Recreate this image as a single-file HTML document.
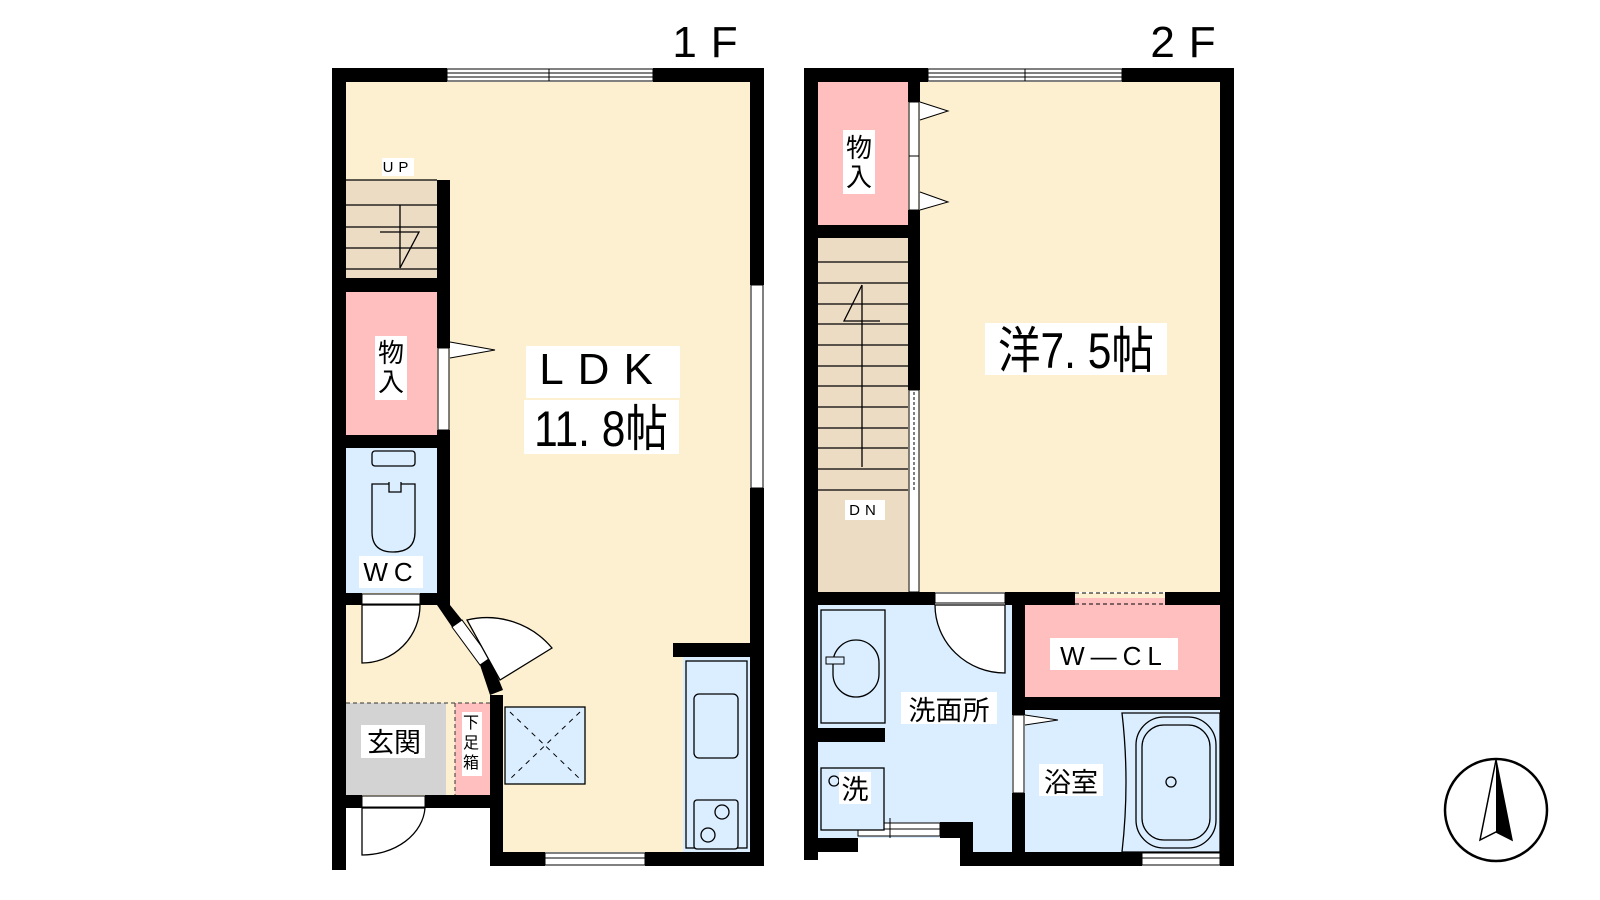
<!DOCTYPE html>
<html><head><meta charset="utf-8"><style>
html,body{margin:0;padding:0;background:#fff;width:1600px;height:900px;overflow:hidden;}
svg{display:block;}
text{font-family:"Liberation Sans","Noto Sans CJK JP",sans-serif;}
</style></head><body>
<svg width="1600" height="900" viewBox="0 0 1600 900" xmlns="http://www.w3.org/2000/svg">
<!-- ===== 1F ===== -->
<rect x="346" y="82" width="404" height="770" fill="#fdf0d0"/>
<rect x="346" y="808" width="144" height="60" fill="#fff"/>
<rect x="346" y="180" width="91" height="98" fill="#eddcc4"/>
<g stroke="#000" stroke-width="1.3">
<line x1="346" y1="180" x2="437" y2="180"/><line x1="346" y1="205" x2="437" y2="205"/>
<line x1="346" y1="227" x2="437" y2="227"/><line x1="346" y1="248" x2="437" y2="248"/>
<line x1="346" y1="269" x2="437" y2="269"/>
<line x1="400" y1="205" x2="400" y2="268"/>
<polyline points="380,232 419,232 400,268" fill="none"/>
</g>
<rect x="382" y="158" width="32" height="18" fill="#fff"/>
<text x="398" y="172" font-size="15" text-anchor="middle" letter-spacing="5">UP</text>
<rect x="346" y="292" width="91" height="143" fill="#ffbfbf"/>
<rect x="346" y="448" width="91" height="145" fill="#dbeeff"/>
<rect x="346" y="703" width="100" height="92" fill="#d3d3d3"/>
<rect x="455" y="703" width="35" height="92" fill="#ffbfbf"/>
<line x1="346" y1="703" x2="490" y2="703" stroke="#333" stroke-dasharray="4,3" stroke-width="1"/>
<line x1="455" y1="703" x2="455" y2="795" stroke="#333" stroke-dasharray="4,3" stroke-width="1"/>
<g fill="#000">
<rect x="332" y="68" width="115" height="14"/>
<rect x="653" y="68" width="111" height="14"/>
<rect x="332" y="68" width="14" height="802"/>
<rect x="750" y="68" width="14" height="217"/>
<rect x="750" y="488" width="14" height="378"/>
<rect x="490" y="852" width="55" height="14"/>
<rect x="645" y="852" width="119" height="14"/>
<rect x="437" y="180" width="13" height="168"/>
<rect x="437" y="430" width="13" height="175"/>
<rect x="346" y="278" width="91" height="14"/>
<rect x="346" y="435" width="91" height="13"/>
<rect x="332" y="593" width="30" height="12"/>
<rect x="420" y="593" width="30" height="12"/>
<rect x="332" y="795" width="30" height="13"/>
<rect x="425" y="795" width="78" height="13"/>
<rect x="490" y="695" width="13" height="171"/>
<rect x="673" y="643" width="91" height="14"/>
<polygon points="437,605 450,605 462,620 452,627"/>
<polygon points="480,665 490,658 503,690 490,695"/>
</g>
<g fill="#fff" stroke="#000" stroke-width="1">
<rect x="447" y="69" width="206" height="12"/>
<line x1="447" y1="73" x2="653" y2="73"/><line x1="447" y1="77" x2="653" y2="77"/>
<line x1="549" y1="69" x2="549" y2="81"/>
<rect x="751" y="285" width="12" height="203"/>
<rect x="545" y="853" width="100" height="12"/>
<line x1="545" y1="858" x2="645" y2="858"/>
</g>
<rect x="438" y="348" width="11" height="82" fill="#fff" stroke="#000"/>
<polyline points="450,342 495,350 450,358" fill="#fff" stroke="#000"/>
<rect x="362" y="594" width="58" height="10" fill="#fff" stroke="#000"/>
<path d="M362,605 L362,663 A58,58 0 0 0 420,605 Z" fill="#fff" stroke="#000" stroke-width="1.3"/>
<rect x="362" y="796" width="63" height="11" fill="#fff" stroke="#000"/>
<path d="M362,808 L362,855 A63,50 0 0 0 425,808 Z" fill="#fff" stroke="#000" stroke-width="1.3"/>
<polygon points="452,627 462,620 490,658 480,665" fill="#fff" stroke="#000"/>
<path d="M467,620 A85,85 0 0 1 552,648 L500,680 Z" fill="#fff" stroke="#000" stroke-width="1.3"/>
<g fill="#dbeeff" stroke="#000" stroke-width="1.3">
<rect x="372" y="451" width="43" height="15" rx="3"/>
<path d="M372,484 L372,532 Q372,552 393,552 Q415,552 415,532 L415,484 Z"/>
<path d="M389,482 L389,492 L401,492 L401,482"/>
</g>
<rect x="505" y="707" width="80" height="77" fill="#dbeeff" stroke="#000" stroke-width="1.3"/>
<g stroke="#000" stroke-dasharray="5,5"><line x1="510" y1="712" x2="580" y2="779"/><line x1="580" y1="712" x2="510" y2="779"/></g>
<rect x="683" y="657" width="67" height="195" fill="#dbeeff"/>
<rect x="686" y="661" width="61" height="187" fill="#dbeeff" stroke="#000" stroke-width="1.3"/>
<rect x="694" y="694" width="44" height="64" rx="5" fill="#dbeeff" stroke="#000" stroke-width="1.3"/>
<rect x="694" y="800" width="44" height="49" rx="3" fill="#dbeeff" stroke="#000" stroke-width="1.3"/>
<circle cx="722" cy="812" r="7" fill="none" stroke="#000" stroke-width="1.3"/>
<circle cx="708" cy="835" r="7" fill="none" stroke="#000" stroke-width="1.3"/>
<rect x="526" y="346" width="154" height="52" fill="#fff"/>
<text x="603" y="384" font-size="44" text-anchor="middle" letter-spacing="14">LDK</text>
<rect x="524" y="400" width="155" height="54" fill="#fff"/>
<text x="601" y="446" font-size="50" text-anchor="middle" transform="translate(601,0) scale(0.85,1) translate(-601,0)">11. 8帖</text>
<rect x="375" y="336" width="32" height="64" fill="#fff"/>
<text x="391" y="362" font-size="26" text-anchor="middle">物</text>
<text x="391" y="391" font-size="26" text-anchor="middle">入</text>
<rect x="359" y="556" width="64" height="32" fill="#fff"/>
<text x="391" y="581" font-size="26" text-anchor="middle" letter-spacing="6">WC</text>
<rect x="361" y="725" width="64" height="33" fill="#fff"/>
<text x="394" y="752" font-size="27" text-anchor="middle">玄関</text>
<rect x="462" y="712" width="20" height="64" fill="#fff"/>
<text x="471" y="728" font-size="16" text-anchor="middle">下</text>
<text x="471" y="748" font-size="16" text-anchor="middle">足</text>
<text x="471" y="768" font-size="16" text-anchor="middle">箱</text>
<text x="712" y="57" font-size="44" text-anchor="middle" letter-spacing="14">1F</text>

<!-- ===== 2F ===== -->
<rect x="818" y="82" width="402" height="510" fill="#fdf0d0"/>
<rect x="818" y="82" width="90" height="143" fill="#ffbfbf"/>
<rect x="818" y="238" width="90" height="354" fill="#eddcc4"/>
<g stroke="#000" stroke-width="1.3">
<line x1="818" y1="262" x2="908" y2="262"/><line x1="818" y1="283" x2="908" y2="283"/>
<line x1="818" y1="304" x2="908" y2="304"/><line x1="818" y1="324" x2="908" y2="324"/>
<line x1="818" y1="345" x2="908" y2="345"/><line x1="818" y1="366" x2="908" y2="366"/>
<line x1="818" y1="386" x2="908" y2="386"/><line x1="818" y1="407" x2="908" y2="407"/>
<line x1="818" y1="428" x2="908" y2="428"/><line x1="818" y1="448" x2="908" y2="448"/>
<line x1="818" y1="469" x2="908" y2="469"/><line x1="818" y1="490" x2="908" y2="490"/>
<line x1="862" y1="285" x2="862" y2="467"/>
<polyline points="862,285 844,321 880,321" fill="none"/>
</g>
<rect x="845" y="500" width="40" height="20" fill="#fff"/>
<text x="865" y="515" font-size="15" text-anchor="middle" letter-spacing="5">DN</text>
<rect x="818" y="605" width="194" height="233" fill="#dbeeff"/>
<rect x="973" y="838" width="39" height="14" fill="#dbeeff"/>
<rect x="1025" y="605" width="195" height="92" fill="#ffbfbf"/>
<rect x="1025" y="710" width="195" height="142" fill="#dbeeff"/>
<g fill="#000">
<rect x="804" y="68" width="124" height="14"/>
<rect x="1122" y="68" width="112" height="14"/>
<rect x="804" y="68" width="14" height="792"/>
<rect x="1220" y="68" width="14" height="798"/>
<rect x="908" y="82" width="12" height="20"/>
<rect x="908" y="210" width="12" height="180"/>
<rect x="818" y="225" width="90" height="13"/>
<rect x="804" y="592" width="131" height="13"/>
<rect x="1005" y="592" width="70" height="13"/>
<rect x="1165" y="592" width="69" height="13"/>
<rect x="1012" y="592" width="13" height="123"/>
<rect x="1012" y="793" width="13" height="73"/>
<rect x="1025" y="697" width="195" height="13"/>
<rect x="818" y="728" width="67" height="14"/>
<rect x="804" y="838" width="54" height="14"/>
<rect x="960" y="822" width="13" height="44"/>
<rect x="940" y="822" width="33" height="16"/>
<rect x="960" y="852" width="182" height="14"/>
</g>
<g fill="#fff" stroke="#000" stroke-width="1">
<rect x="928" y="69" width="194" height="12"/>
<line x1="928" y1="73" x2="1122" y2="73"/><line x1="928" y1="77" x2="1122" y2="77"/>
<line x1="1025" y1="69" x2="1025" y2="81"/>
<rect x="858" y="823" width="82" height="13"/>
<line x1="858" y1="829" x2="940" y2="829"/>
<line x1="890" y1="818" x2="890" y2="838"/>
<rect x="1142" y="853" width="78" height="12"/>
<line x1="1142" y1="858" x2="1220" y2="858"/>
<rect x="909" y="390" width="10" height="202"/>
<line x1="914" y1="392" x2="914" y2="490" stroke-dasharray="3,2"/>
</g>
<rect x="909" y="102" width="10" height="54" fill="#fff" stroke="#000"/>
<rect x="909" y="156" width="10" height="54" fill="#fff" stroke="#000"/>
<polyline points="920,102 948,111 920,120" fill="#fff" stroke="#000"/>
<polyline points="920,192 948,202 920,210" fill="#fff" stroke="#000"/>
<rect x="1075" y="593" width="90" height="11" fill="#fdf0d0"/>
<rect x="1075" y="598" width="90" height="7" fill="#ffbfbf"/>
<g stroke="#000" stroke-dasharray="4,3"><line x1="1075" y1="593" x2="1165" y2="593"/><line x1="1075" y1="604" x2="1165" y2="604"/></g>
<rect x="935" y="593" width="70" height="10" fill="#fff" stroke="#000"/>
<path d="M935,605 A70,68 0 0 0 1005,673 L1005,605 Z" fill="#fff" stroke="#000" stroke-width="1.3"/>
<rect x="1013" y="715" width="11" height="78" fill="#fff" stroke="#000"/>
<polyline points="1025,715 1058,720 1025,725" fill="#fff" stroke="#000"/>
<rect x="821" y="610" width="64" height="113" fill="#dbeeff" stroke="#000" stroke-width="1.3"/>
<rect x="833" y="640" width="46" height="57" rx="23" fill="#dbeeff" stroke="#000" stroke-width="1.3"/>
<rect x="826" y="657" width="18" height="7" fill="#dbeeff" stroke="#000"/>
<rect x="821" y="768" width="63" height="62" fill="#dbeeff" stroke="#000" stroke-width="1.3"/>
<circle cx="834" cy="781" r="5" fill="none" stroke="#000" stroke-width="1.3"/>
<path d="M1122,713 L1220,713 L1220,852 L1122,852 Q1130,782 1122,713 Z" fill="#dbeeff" stroke="#000" stroke-width="1.3"/>
<rect x="1136" y="717" width="80" height="131" rx="28" fill="none" stroke="#000" stroke-width="1.3"/>
<rect x="1142" y="725" width="68" height="115" rx="22" fill="none" stroke="#000" stroke-width="1.3"/>
<circle cx="1171" cy="782" r="5" fill="none" stroke="#000" stroke-width="1.3"/>
<rect x="985" y="323" width="182" height="52" fill="#fff"/>
<text x="1076" y="368" font-size="50" text-anchor="middle" transform="translate(1076,0) scale(0.85,1) translate(-1076,0)">洋7. 5帖</text>
<rect x="843" y="130" width="32" height="64" fill="#fff"/>
<text x="859" y="157" font-size="26" text-anchor="middle">物</text>
<text x="859" y="186" font-size="26" text-anchor="middle">入</text>
<rect x="1050" y="638" width="128" height="32" fill="#fff"/>
<text x="1114" y="665" font-size="26" text-anchor="middle" letter-spacing="6">W—CL</text>
<rect x="901" y="692" width="96" height="32" fill="#fff"/>
<text x="949" y="720" font-size="27" text-anchor="middle">洗面所</text>
<rect x="1039" y="764" width="64" height="32" fill="#fff"/>
<text x="1071" y="792" font-size="27" text-anchor="middle">浴室</text>
<rect x="839" y="772" width="32" height="32" fill="#fff"/>
<text x="855" y="799" font-size="27" text-anchor="middle">洗</text>
<text x="1190" y="57" font-size="44" text-anchor="middle" letter-spacing="14">2F</text>

<circle cx="1496" cy="810" r="51" fill="#fff" stroke="#000" stroke-width="2.5"/>
<polygon points="1496,760 1480,840 1496,832 1512,840" fill="#fff" stroke="#000" stroke-width="1.5"/>
<polygon points="1496,760 1496,832 1512,840" fill="#000"/>
</svg>
</body></html>
